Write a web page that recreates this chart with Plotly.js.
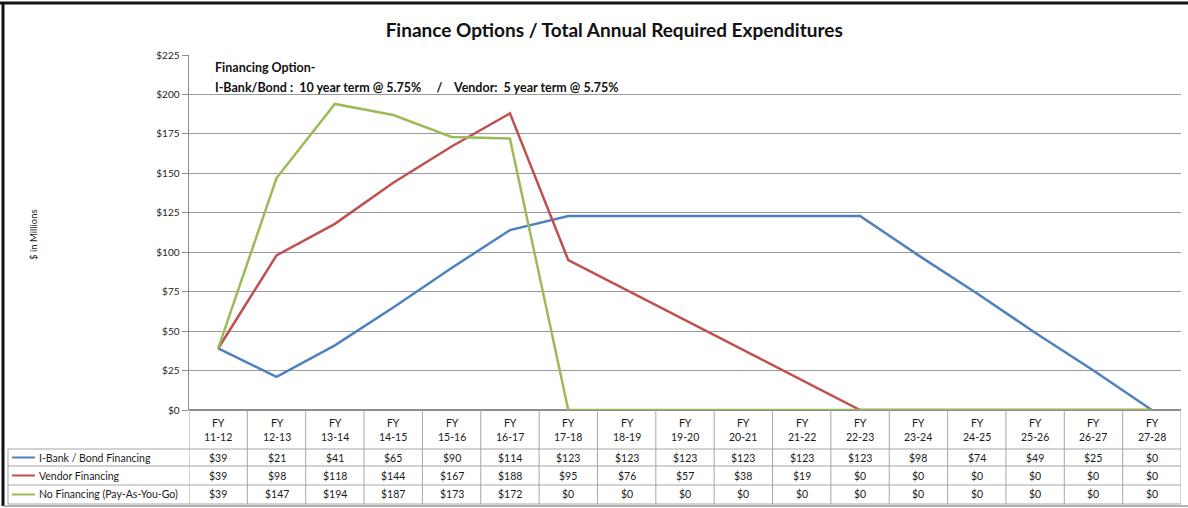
<!DOCTYPE html>
<html>
<head>
<meta charset="utf-8">
<script src="https://cdn.plot.ly/plotly-3.0.1.min.js"></script>
<style>
  body { margin: 0; background: #fff; }
  #chart { width: 1188px; height: 508px; }
</style>
</head>
<body>
<div id="chart"></div>
<script>
var fiscalYears = ["11-12", "12-13", "13-14", "14-15", "15-16", "16-17", "17-18", "18-19", "19-20",
                   "20-21", "21-22", "22-23", "23-24", "24-25", "25-26", "26-27", "27-28"];
var seriesNames = ["I-Bank / Bond Financing", "Vendor Financing", "No Financing (Pay-As-You-Go)"];
var bondValues = [39, 21, 41, 65, 90, 114, 123, 123, 123, 123, 123, 123, 98, 74, 49, 25, 0];
var vendorValues = [39, 98, 118, 144, 167, 188, 95, 76, 57, 38, 19, 0, 0, 0, 0, 0, 0];
var payGoValues = [39, 147, 194, 187, 173, 172, 0, 0, 0, 0, 0, 0, 0, 0, 0, 0, 0];
var yTicks = [0, 25, 50, 75, 100, 125, 150, 175, 200, 225];

var seriesValues = [bondValues, vendorValues, payGoValues];
var colors = ["#4F81BD", "#C0504D", "#9BBB59"];
var fontFam = "Lato, 'Open Sans', sans-serif";

// pixel -> paper helpers for the table drawn under the plot
var W = 1188, H = 508, ML = 189, MR = 7, MT = 55, MB = 98;
function px(x) { return (x - ML) / (W - ML - MR); }
function py(y) { return (H - MB - y) / (H - MT - MB); }

var xIdx = fiscalYears.map((d, i) => i);

var data = seriesValues.map((vals, s) => ({
  x: xIdx,
  y: vals,
  type: "scatter",
  mode: "lines",
  name: seriesNames[s],
  line: { color: colors[s], width: 2.5 },
  cliponaxis: false,
  hoverinfo: "y"
}));

var shapes = [];
var annotations = [];
var lineGrey = "#a6a6a6";
var txt = { family: fontFam, size: 10.5, color: "#1a1a1a" };

// outer frame
shapes.push({ type: "line", xref: "paper", yref: "paper", x0: px(0), x1: px(1188), y0: py(3), y1: py(3), line: { color: "#111", width: 3 } });
shapes.push({ type: "line", xref: "paper", yref: "paper", x0: px(3), x1: px(3), y0: py(2), y1: py(506), line: { color: "#111", width: 3 } });
shapes.push({ type: "line", xref: "paper", yref: "paper", x0: px(3), x1: px(1188), y0: py(506), y1: py(506), line: { color: "#999", width: 1.5 } });

// table grid
var rowLines = [449, 466, 485, 504];
rowLines.forEach(function (y) {
  shapes.push({ type: "line", xref: "paper", yref: "paper", x0: px(8), x1: px(1181), y0: py(y), y1: py(y), line: { color: lineGrey, width: 1 } });
});
for (var i = 0; i <= fiscalYears.length; i++) {
  shapes.push({ type: "line", xref: "x", yref: "paper", x0: i - 0.5, x1: i - 0.5, y0: py(410), y1: py(504), line: { color: lineGrey, width: 1 } });
}
shapes.push({ type: "line", xref: "paper", yref: "paper", x0: px(8), x1: px(8), y0: py(449), y1: py(504), line: { color: lineGrey, width: 1 } });

// header row
fiscalYears.forEach(function (fy, i) {
  annotations.push({ x: i, y: py(429.5), xref: "x", yref: "paper", xanchor: "center", yanchor: "middle",
    text: "FY<br>" + fy, showarrow: false, font: txt });
});

// value rows + legend keys
var rowCenters = [457.5, 475.5, 494.5];
seriesValues.forEach(function (vals, s) {
  shapes.push({ type: "line", xref: "paper", yref: "paper", x0: px(12), x1: px(35), y0: py(rowCenters[s]), y1: py(rowCenters[s]),
    line: { color: colors[s], width: 2 } });
  annotations.push({ x: px(37), y: py(rowCenters[s]), xref: "paper", yref: "paper", xanchor: "left", yanchor: "middle",
    text: seriesNames[s], showarrow: false, font: txt });
  vals.forEach(function (v, i) {
    annotations.push({ x: i, y: py(rowCenters[s]), xref: "x", yref: "paper", xanchor: "center", yanchor: "middle",
      text: "$" + v, showarrow: false, font: txt });
  });
});

// note inside plot
var noteFont = { family: fontFam, size: 12.5, color: "#111" };
annotations.push({ x: px(213), y: py(68), xref: "paper", yref: "paper", xanchor: "left", yanchor: "middle",
  text: "<b>Financing Option-</b>", showarrow: false, font: noteFont });
annotations.push({ x: px(213), y: py(87), xref: "paper", yref: "paper", xanchor: "left", yanchor: "middle",
  text: "<b>I-Bank/Bond :&nbsp; 10 year term @ 5.75% &nbsp;&nbsp;&nbsp; / &nbsp;&nbsp;&nbsp;Vendor:&nbsp; 5 year term @ 5.75%</b>",
  showarrow: false, font: noteFont });

// y axis title
annotations.push({ x: px(33), y: py(235), xref: "paper", yref: "paper", xanchor: "center", yanchor: "middle",
  text: "$ in Millions", textangle: -90, showarrow: false, font: { family: fontFam, size: 9.5, color: "#222" } });

var layout = {
  width: W, height: H,
  margin: { l: ML, r: MR, t: MT, b: MB },
  paper_bgcolor: "#fff", plot_bgcolor: "#fff",
  showlegend: false,
  title: { text: "<b>Finance Options / Total Annual Required Expenditures</b>", x: 0.517, xanchor: "center", y: 0.94, yanchor: "middle",
    font: { family: fontFam, size: 19, color: "#111" } },
  xaxis: { range: [-0.5, fiscalYears.length - 0.5], showticklabels: false, showgrid: false, zeroline: false,
    showline: false, fixedrange: true },
  yaxis: { range: [0, 225], tickvals: yTicks, ticktext: yTicks.map(v => "$" + v), ticks: "outside", ticklen: 6,
    tickcolor: "#8c8c8c", gridcolor: "#9a9a9a", gridwidth: 1, showline: true, linecolor: "#8c8c8c", linewidth: 1.5,
    zeroline: true, zerolinecolor: "#8c8c8c", zerolinewidth: 1.5,
    tickfont: { family: fontFam, size: 10, color: "#222" }, fixedrange: true },
  shapes: shapes,
  annotations: annotations
};

Plotly.newPlot("chart", data, layout, { displayModeBar: false, staticPlot: true });
</script>
</body>
</html>
